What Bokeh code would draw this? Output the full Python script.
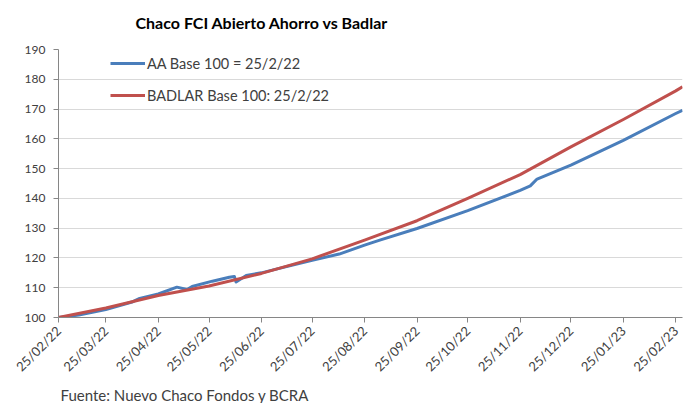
import pandas as pd
from bokeh.plotting import figure
from bokeh.models import (FixedTicker, DatetimeTickFormatter, Legend, LegendItem,
                          Title, Range1d)
from bokeh.embed import file_html
from bokeh.resources import INLINE

# ---- data ----
aa_dates = ["2022-02-25", "2022-03-09", "2022-03-25", "2022-04-10", "2022-04-14",
            "2022-04-25", "2022-05-06", "2022-05-12", "2022-05-15", "2022-05-27",
            "2022-06-06", "2022-06-09", "2022-06-10", "2022-06-16", "2022-06-25",
            "2022-07-02", "2022-07-25", "2022-08-10", "2022-08-25", "2022-09-03",
            "2022-09-25", "2022-10-25", "2022-11-25", "2022-12-01", "2022-12-05",
            "2022-12-25", "2023-01-25", "2023-02-25", "2023-03-01"]
aa_values = [100.0, 100.8, 102.7, 105.3, 106.4,
             107.9, 110.2, 109.4, 110.4, 112.2,
             113.5, 113.8, 111.9, 114.1, 115.0,
             116.0, 119.2, 121.3, 124.3, 126.0,
             129.9, 135.9, 142.7, 144.2, 146.5,
             151.2, 159.5, 168.5, 169.6]

badlar_dates = ["2022-02-25", "2022-03-25", "2022-04-25", "2022-05-25", "2022-06-25",
                "2022-07-25", "2022-08-25", "2022-09-25", "2022-10-25", "2022-11-25",
                "2022-12-25", "2023-01-25", "2023-02-25", "2023-03-01"]
badlar_values = [100.0, 103.2, 107.4, 110.6, 114.8,
                 119.7, 126.0, 132.5, 140.0, 148.0,
                 157.3, 166.5, 176.1, 177.5]

tick_dates = ["2022-02-25", "2022-03-25", "2022-04-25", "2022-05-25", "2022-06-25",
              "2022-07-25", "2022-08-25", "2022-09-25", "2022-10-25", "2022-11-25",
              "2022-12-25", "2023-01-25", "2023-02-25"]
tick_labels = ["25/02/22", "25/03/22", "25/04/22", "25/05/22", "25/06/22",
               "25/07/22", "25/08/22", "25/09/22", "25/10/22", "25/11/22",
               "25/12/22", "25/01/23", "25/02/23"]
y_ticks = [100, 110, 120, 130, 140, 150, 160, 170, 180, 190]

series_labels = ["AA Base 100 = 25/2/22", "BADLAR Base 100: 25/2/22"]
title_text = "Chaco FCI Abierto Ahorro vs Badlar"
source_text = "Fuente: Nuevo Chaco Fondos y BCRA"

FONT = "Lato"
TXT = "#404040"

aa_x = pd.to_datetime(aa_dates)
bd_x = pd.to_datetime(badlar_dates)
tick_ms = [pd.Timestamp(d).timestamp() * 1000.0 for d in tick_dates]

p = figure(width=691, height=403, x_axis_type="datetime",
           output_backend="svg", toolbar_location=None,
           min_border_left=58, min_border_right=9,
           min_border_top=49, min_border_bottom=85)
p.title_location = None
p.x_range = Range1d(pd.Timestamp("2022-02-25"), pd.Timestamp("2023-03-01"))
p.y_range = Range1d(100, 190)
p.outline_line_color = None
p.background_fill_color = "white"
p.border_fill_color = "white"

# title (a small spacer title sits between the frame and the main title)
spacer = Title(text=" ", text_font_size="10px", standoff=0)
p.add_layout(spacer, "above")
main_title = Title(text=title_text, align="left", offset=77,
                   text_font=FONT, text_font_style="bold",
                   text_font_size="16px", text_color="black")
p.add_layout(main_title, "above")

# grid
p.xgrid.grid_line_color = None
p.ygrid.grid_line_color = "#d9d9d9"
p.ygrid.grid_line_width = 1

# y axis
p.yaxis.ticker = FixedTicker(ticks=y_ticks)
p.yaxis.axis_line_color = "#868686"
p.yaxis.major_tick_line_color = "#868686"
p.yaxis.major_tick_out = 5
p.yaxis.major_tick_in = 0
p.yaxis.minor_tick_line_color = None
p.yaxis.major_label_standoff = 8
p.yaxis.major_label_text_font = FONT
p.yaxis.major_label_text_font_size = "12px"
p.yaxis.major_label_text_color = TXT

# x axis
p.xaxis.ticker = FixedTicker(ticks=tick_ms)
p.xaxis.formatter = DatetimeTickFormatter(days="%d/%m/%y", months="%d/%m/%y",
                                          years="%d/%m/%y")
p.xaxis.major_label_overrides = {t: l for t, l in zip(tick_ms, tick_labels)}
p.xaxis.major_label_orientation = 0.785398
p.xaxis.axis_line_color = "#868686"
p.xaxis.major_tick_line_color = "#868686"
p.xaxis.major_tick_out = 5
p.xaxis.major_tick_in = 0
p.xaxis.minor_tick_line_color = None
p.xaxis.major_label_standoff = 6
p.xaxis.major_label_text_font = FONT
p.xaxis.major_label_text_font_size = "13px"
p.xaxis.major_label_text_color = TXT

r_aa = p.line(aa_x, aa_values, line_color="#4a7ebb", line_width=3, line_join="round")
r_bd = p.line(bd_x, badlar_values, line_color="#c0504d", line_width=3, line_join="round")

legend = Legend(items=[LegendItem(label=series_labels[0], renderers=[r_aa]),
                       LegendItem(label=series_labels[1], renderers=[r_bd])],
                location=(52, 212), orientation="vertical",
                border_line_color=None, background_fill_alpha=0,
                padding=0, spacing=12, margin=0,
                glyph_width=35, glyph_height=20, label_height=20,
                label_standoff=2, label_text_font=FONT,
                label_text_font_size="14.5px", label_text_color=TXT)
p.add_layout(legend)

footer = Title(text=source_text, align="left", offset=2, standoff=0,
               text_font=FONT, text_font_style="normal", text_font_size="15px",
               text_color=TXT)
p.add_layout(footer, "below")

open("out.html", "w").write(file_html(p, INLINE))
